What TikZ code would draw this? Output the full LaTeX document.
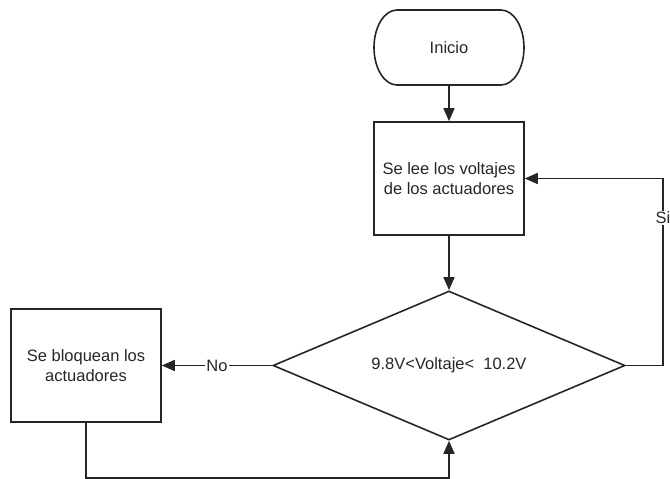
\documentclass[tikz,border=0pt]{standalone}
\usepackage{fontspec}
\setmainfont{Liberation Sans}
\usetikzlibrary{arrows.meta,shapes.geometric}
\begin{document}
\begin{tikzpicture}[x=1pt,y=-1pt, line width=1.6pt,
  font=\fontsize{16.5}{20}\selectfont, color=black!85,
  box/.style={draw, rectangle, minimum width=150pt, minimum height=113pt, align=center, inner sep=0pt},
  arr/.style={-{Triangle[length=13pt,width=11pt]}},
  lbl/.style={fill=white, inner sep=1pt}]
\useasboundingbox (0,0) rectangle (670,479);
% terminal
\node[minimum width=150pt, minimum height=75pt, inner sep=0pt] (inicio) at (449,47.5) {Inicio};
\draw (397,10) -- (501,10)
  .. controls (513.7,10) and (524,26.8) .. (524,47.5)
  .. controls (524,68.2) and (513.7,85) .. (501,85)
  -- (397,85)
  .. controls (384.3,85) and (374,68.2) .. (374,47.5)
  .. controls (374,26.8) and (384.3,10) .. (397,10) -- cycle;
\node[box] (lee) at (449,178.5) {Se lee los voltajes\\de los actuadores};
\node[draw, diamond, aspect=2.36, minimum width=352pt, minimum height=149pt, inner sep=0pt] (dec) at (449,365.5) {9.8V<Voltaje<\ \ 10.2V};
\node[box] (blo) at (86,365.5) {Se bloquean los\\actuadores};
\coordinate (c1) at (663,365.5);
\coordinate (b1) at (86,478);
\draw[arr] (inicio.south) -- (lee.north);
\draw[arr] (lee.south) -- (dec.north);
\draw[arr] (dec.east) -- (c1) |- node[lbl, pos=0.395] {Si} (lee.east);
\draw[arr] (dec.west) -- node[lbl] {No} (blo.east);
\draw[arr] (blo.south) -- (b1) -| (dec.south);
\end{tikzpicture}
\end{document}
